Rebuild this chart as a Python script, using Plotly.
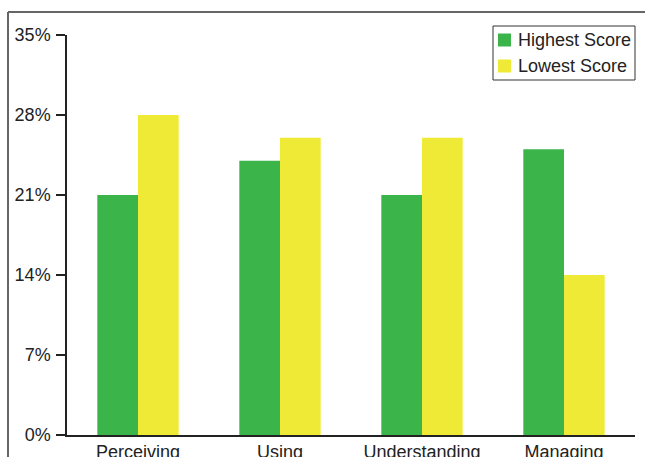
import plotly.graph_objects as go

categories = ["Perceiving", "Using", "Understanding", "Managing"]
highest = [21, 24, 21, 25]
lowest = [28, 26, 26, 14]
series_names = ["Highest Score", "Lowest Score"]
series_colors = ["#3bb54a", "#efea35"]
tick_vals = [0, 7, 14, 21, 28, 35]
tick_text = ["0%", "7%", "14%", "21%", "28%", "35%"]

W, H = 645, 457
L, R, T, B = 67, 10, 35, 22
pw, ph = W - L - R, H - T - B

def px_x(p):
    return (p - L) / pw

def px_y(p):
    return (H - B - p) / ph

fig = go.Figure()
for name, vals, col in zip(series_names, [highest, lowest], series_colors):
    fig.add_trace(go.Bar(x=categories, y=vals, name=name, showlegend=False,
                         marker=dict(color=col, line=dict(width=0))))

font = "Liberation Sans, Arial, Helvetica, sans-serif"

shapes = [
    dict(type="line", xref="paper", yref="paper",
         x0=px_x(8), x1=px_x(W + 5), y0=px_y(12), y1=px_y(12),
         line=dict(color="#666", width=2)),
    dict(type="line", xref="paper", yref="paper",
         x0=px_x(8), x1=px_x(8), y0=px_y(12), y1=px_y(H + 5),
         line=dict(color="#666", width=2)),
    # legend box
    dict(type="rect", xref="paper", yref="paper",
         x0=px_x(493), x1=px_x(635), y0=px_y(26), y1=px_y(80),
         line=dict(color="#333", width=1), fillcolor="white"),
]
annotations = []
legend_rows = [40, 66]
for (name, col, cy) in zip(series_names, series_colors, legend_rows):
    shapes.append(dict(type="rect", xref="paper", yref="paper",
                       x0=px_x(498), x1=px_x(511), y0=px_y(cy - 6.5), y1=px_y(cy + 6.5),
                       line=dict(width=0), fillcolor=col))
    annotations.append(dict(text=name, xref="paper", yref="paper",
                            x=px_x(516), y=px_y(cy), xanchor="left", yanchor="middle",
                            showarrow=False, font=dict(size=18, color="#222", family=font)))

fig.update_layout(
    width=W, height=H,
    margin=dict(l=L, r=R, t=T, b=B, autoexpand=False),
    paper_bgcolor="white", plot_bgcolor="white",
    barmode="group", bargap=0.427, bargroupgap=0,
    font=dict(family=font, size=18, color="#222"),
    showlegend=False,
    xaxis=dict(showline=True, linecolor="#222", linewidth=1.5,
               ticks="", showgrid=False, zeroline=False,
               range=[-0.5, 3.5], automargin=False,
               tickfont=dict(size=18, color="#222")),
    yaxis=dict(showline=True, linecolor="#222", linewidth=1.5,
               ticks="outside", ticklen=9, tickcolor="#222", tickwidth=1.5,
               tickvals=tick_vals, ticktext=tick_text, range=[0, 35],
               showgrid=False, zeroline=False, automargin=False,
               ticklabelstandoff=2,
               tickfont=dict(size=18, color="#222")),
    shapes=shapes,
    annotations=annotations,
)

fig.write_html("out.html")
